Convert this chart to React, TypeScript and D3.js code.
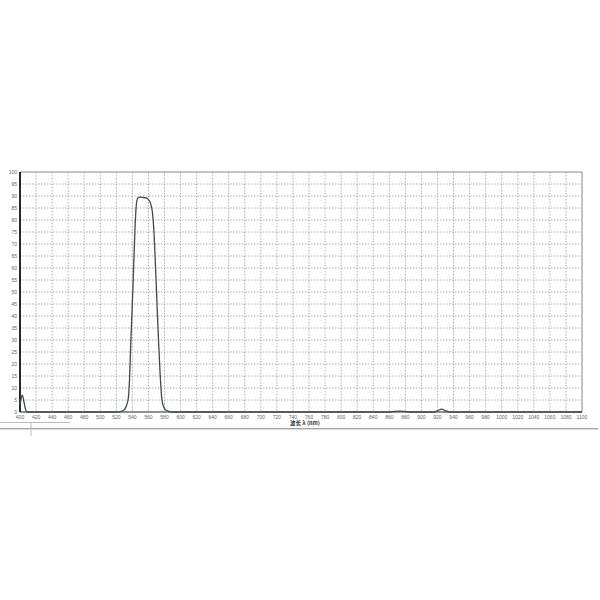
import React from "react";
import * as d3 from "d3";

const wavelengths = [400, 401, 403, 405, 407, 408.5, 420, 500, 522, 526, 530, 533, 535, 536.5, 537.8, 539.5, 541, 543.2, 544.8, 546.5, 549, 553, 557, 560, 563, 565, 566.5, 568, 569.5, 571, 572.5, 574.5, 576.5, 578.5, 581, 585, 590, 600, 700, 860, 867, 873, 879, 885, 915, 920, 925, 930, 935, 960, 1100];
const transmittance = [3, 5, 7, 4, 1, 0, 0, 0, 0, 0.3, 1, 3, 6, 14, 27, 42, 55, 76, 86, 89, 89.5, 89.4, 89.2, 88.5, 86.5, 83, 77, 67, 55, 42, 30, 16, 6, 2.5, 1, 0.3, 0, 0, 0, 0, 0.3, 0.4, 0.3, 0, 0, 0.5, 1.2, 0.5, 0, 0, 0];

const xTicks = d3.range(400, 1101, 20);
const yTicks = d3.range(0, 101, 5);
const xTitle = "波长 λ (nm)";

export default function App() {
  const left = 20, right = 582, top = 172, bottom = 412;
  const x = d3.scaleLinear().domain([400, 1100]).range([left, right]);
  const y = d3.scaleLinear().domain([0, 100]).range([bottom, top]);
  const pts: [number, number][] = wavelengths.map((w, i) => [w, transmittance[i]]);
  const line = d3
    .line<[number, number]>()
    .x((d) => x(d[0]))
    .y((d) => y(d[1]))
    .curve(d3.curveMonotoneX);
  const font = "'Liberation Sans', Arial, sans-serif";
  return (
    <svg
      width={600}
      height={600}
      style={{ position: "absolute", left: 0, top: 0, background: "#fff" }}
    >
      <rect x={0} y={0} width={600} height={600} fill="#fff" />
      {/* grid */}
      {xTicks.slice(1, -1).map((t) => (
        <line key={"gx" + t} x1={x(t)} x2={x(t)} y1={top} y2={bottom} stroke="#9a9a9a" strokeWidth={0.8} strokeDasharray="1.5,1.5" />
      ))}
      {yTicks.slice(1, -1).map((t) => (
        <line key={"gy" + t} x1={left} x2={right} y1={y(t)} y2={y(t)} stroke="#9a9a9a" strokeWidth={0.8} strokeDasharray="1.5,1.5" />
      ))}
      {/* frame */}
      <line x1={left} x2={right} y1={top} y2={top} stroke="#8a8a8a" strokeWidth={1} />
      <line x1={right} x2={right} y1={top} y2={bottom} stroke="#8a8a8a" strokeWidth={1} />
      <line x1={left} x2={right} y1={bottom} y2={bottom} stroke="#222" strokeWidth={1.2} />
      <line x1={left} x2={left} y1={top} y2={bottom} stroke="#111" strokeWidth={1.8} />
      {/* tick labels */}
      {yTicks.map((t) => (
        <text key={"ly" + t} x={17} y={y(t)} dy="0.35em" textAnchor="end" fontSize={5} fill="#666" fontFamily={font}>
          {t}
        </text>
      ))}
      {xTicks.map((t) => (
        <text key={"lx" + t} x={x(t)} y={417} dy="0.35em" textAnchor="middle" fontSize={5} fill="#666" fontFamily={font}>
          {t}
        </text>
      ))}
      <text x={305} y={423.5} dy="0.35em" textAnchor="middle" fontSize={5.5} fontWeight="bold" fill="#333" fontFamily="'Noto Sans CJK SC', sans-serif">
        {xTitle}
      </text>
      {/* curve */}
      <path d={line(pts) || ""} fill="none" stroke="#3d4d48" strokeWidth={1.3} />
      {/* window chrome lines below */}
      <line x1={0} x2={31} y1={422.5} y2={422.5} stroke="#aaa" strokeWidth={0.8} />
      <line x1={31} x2={31} y1={422.5} y2={436} stroke="#aaa" strokeWidth={0.8} />
      <line x1={31} x2={70} y1={422.5} y2={422.5} stroke="#aaa" strokeWidth={0.8} />
      <line x1={0} x2={598} y1={428.5} y2={428.5} stroke="#a5a5a5" strokeWidth={1} />
      <line x1={0} x2={598} y1={429.5} y2={429.5} stroke="#dcdcdc" strokeWidth={1} />
    </svg>
  );
}
